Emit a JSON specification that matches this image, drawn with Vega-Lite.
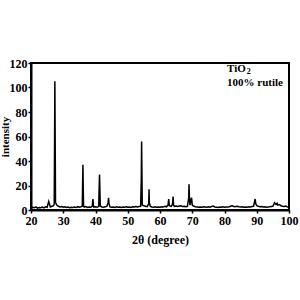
{
  "$schema": "https://vega.github.io/schema/vega-lite/v6.json",
  "width": 258,
  "height": 147,
  "autosize": {"type": "none"},
  "padding": {"left": 31, "top": 63, "right": 11, "bottom": 90},
  "background": "white",
  "config": {
    "view": {"stroke": "black", "strokeWidth": 2},
    "axis": {
      "labelFont": "Liberation Serif", "labelFontWeight": "bold", "labelFontSize": 12, "labelColor": "black",
      "titleFont": "Liberation Serif", "titleFontWeight": "bold", "titleFontSize": 12, "titleColor": "black",
      "domainColor": "black", "domainWidth": 2, "tickColor": "black", "tickSize": 3, "tickWidth": 1.5, "grid": false,
      "labelOverlap": false
    }
  },
  "encoding": {
    "x": {"field": "x", "type": "quantitative", "scale": {"domain": [20, 100], "nice": false}, "axis": {"values": [20,30,40,50,60,70,80,90,100], "labelOverlap": false, "labelFlush": false, "labelBound": false, "title": "2θ (degree)", "titlePadding": 8}},
    "y": {"field": "y", "type": "quantitative", "scale": {"domain": [0, 120], "nice": false}, "axis": {"values": [0,20,40,60,80,100,120], "labelOverlap": false, "labelFlush": false, "labelBound": false, "title": "intensity", "titleFontSize": 11, "titlePadding": -1, "labelPadding": 1}}
  },
  "layer": [
    {
      "data": {"values": [
    {"x":20,"y":1.5},{"x":20.5,"y":2.2},{"x":21,"y":1.8},{"x":21.5,"y":2.5},{"x":22,"y":1.6},{"x":22.5,"y":2.1},{"x":23,"y":1.9},{"x":23.5,"y":2.4},{"x":24,"y":1.7},{"x":24.5,"y":2.6},{"x":25,"y":2.2},{"x":25.5,"y":7},{"x":26,"y":2.5},{"x":26.5,"y":3},{"x":27,"y":3.5},{"x":27.2,"y":5},{"x":27.3,"y":50},{"x":27.4,"y":105},{"x":27.5,"y":55},{"x":27.6,"y":6},{"x":28,"y":4},{"x":28.5,"y":3},{"x":29,"y":2.5},{"x":29.5,"y":2.8},{"x":30,"y":2.2},{"x":30.5,"y":2.6},{"x":31,"y":2},{"x":31.5,"y":2.4},{"x":32,"y":1.9},{"x":32.5,"y":2.3},{"x":33,"y":2.1},{"x":33.5,"y":2.5},{"x":34,"y":2},{"x":34.5,"y":2.7},{"x":35,"y":2.2},{"x":35.5,"y":2.6},{"x":35.9,"y":3},{"x":36.0,"y":20},{"x":36.1,"y":37},{"x":36.2,"y":18},{"x":36.3,"y":3},{"x":36.5,"y":2.4},{"x":37,"y":2.8},{"x":37.5,"y":2.1},{"x":38,"y":2.5},{"x":38.5,"y":2.2},{"x":39,"y":3},{"x":39.2,"y":9},{"x":39.4,"y":3},{"x":39.5,"y":2.4},{"x":40,"y":2.6},{"x":40.5,"y":2.2},{"x":41,"y":3},{"x":41.1,"y":15},{"x":41.25,"y":29},{"x":41.4,"y":12},{"x":41.5,"y":3},{"x":42,"y":2.5},{"x":42.5,"y":2.2},{"x":43,"y":2.6},{"x":43.5,"y":2.9},{"x":43.9,"y":6},{"x":44.05,"y":10},{"x":44.2,"y":5},{"x":44.5,"y":2.5},{"x":45,"y":2.2},{"x":45.5,"y":2.4},{"x":46,"y":2.1},{"x":46.5,"y":2.6},{"x":47,"y":2.3},{"x":47.5,"y":2.5},{"x":48,"y":2},{"x":48.5,"y":2.4},{"x":49,"y":2.2},{"x":49.5,"y":2.7},{"x":50,"y":2.3},{"x":50.5,"y":2.5},{"x":51,"y":2.1},{"x":51.5,"y":2.6},{"x":52,"y":2.4},{"x":52.5,"y":2.8},{"x":53,"y":2.5},{"x":53.5,"y":2.9},{"x":54,"y":3},{"x":54.2,"y":25},{"x":54.3,"y":56},{"x":54.4,"y":30},{"x":54.5,"y":4},{"x":55,"y":3.5},{"x":55.5,"y":3},{"x":56,"y":2.8},{"x":56.5,"y":5},{"x":56.6,"y":17},{"x":56.7,"y":6},{"x":57,"y":3},{"x":57.5,"y":2.5},{"x":58,"y":2.3},{"x":58.5,"y":2.6},{"x":59,"y":2.2},{"x":59.5,"y":2.5},{"x":60,"y":2.3},{"x":60.5,"y":2.7},{"x":61,"y":2.4},{"x":61.5,"y":3},{"x":62,"y":2.6},{"x":62.5,"y":4},{"x":62.7,"y":9},{"x":62.9,"y":3.5},{"x":63.5,"y":3},{"x":63.9,"y":5},{"x":64.05,"y":11},{"x":64.2,"y":4},{"x":64.5,"y":3},{"x":65,"y":3.2},{"x":65.5,"y":2.8},{"x":66,"y":3.3},{"x":66.5,"y":3.5},{"x":67,"y":2.8},{"x":67.5,"y":3},{"x":68,"y":2.6},{"x":68.5,"y":3},{"x":68.9,"y":10},{"x":69.0,"y":21},{"x":69.1,"y":12},{"x":69.3,"y":4},{"x":69.6,"y":8},{"x":69.8,"y":10},{"x":70.0,"y":4},{"x":70.5,"y":3},{"x":71,"y":2.6},{"x":71.5,"y":2.4},{"x":72,"y":2.2},{"x":72.5,"y":2.5},{"x":73,"y":2.3},{"x":73.5,"y":2.6},{"x":74,"y":2.4},{"x":74.5,"y":2.2},{"x":75,"y":2.6},{"x":75.5,"y":2.3},{"x":76,"y":2.8},{"x":76.5,"y":3.2},{"x":77,"y":2.5},{"x":77.5,"y":2.3},{"x":78,"y":2.1},{"x":78.5,"y":2.4},{"x":79,"y":2.2},{"x":79.5,"y":2.6},{"x":80,"y":2.3},{"x":80.5,"y":2.5},{"x":81,"y":2.4},{"x":81.5,"y":2.7},{"x":82,"y":3.2},{"x":82.5,"y":3.4},{"x":83,"y":2.6},{"x":83.5,"y":2.8},{"x":84,"y":3},{"x":84.5,"y":2.6},{"x":85,"y":2.4},{"x":85.5,"y":2.7},{"x":86,"y":2.3},{"x":86.5,"y":2.5},{"x":87,"y":2.2},{"x":87.5,"y":2.6},{"x":88,"y":2.4},{"x":88.5,"y":2.8},{"x":89,"y":3},{"x":89.5,"y":9},{"x":89.7,"y":5},{"x":90,"y":3.5},{"x":90.5,"y":3},{"x":91,"y":2.6},{"x":91.5,"y":2.8},{"x":92,"y":2.4},{"x":92.5,"y":2.6},{"x":93,"y":2.3},{"x":93.5,"y":2.5},{"x":94,"y":2.6},{"x":94.5,"y":2.8},{"x":95,"y":3},{"x":95.5,"y":6},{"x":95.8,"y":5},{"x":96,"y":4.5},{"x":96.3,"y":5.5},{"x":96.5,"y":4},{"x":97,"y":4.5},{"x":97.5,"y":3.5},{"x":98,"y":3},{"x":98.5,"y":2.8},{"x":99,"y":3.2},{"x":99.5,"y":2.5},{"x":100,"y":2}
      ]},
      "mark": {"type": "line", "color": "black", "strokeWidth": 1.5}
    },
    {
      "data": {"values": [{"x": 80.8, "y": 115, "label": "TiO"}, {"x": 80.8, "y": 103.7, "label": "100% rutile"}]},
      "mark": {"type": "text", "font": "Liberation Serif", "fontWeight": "bold", "fontSize": 11, "align": "left", "baseline": "middle"},
      "encoding": {"text": {"field": "label"}}
    },
    {
      "data": {"values": [{"x": 86.9, "y": 112.3, "label": "2"}]},
      "mark": {"type": "text", "font": "Liberation Serif", "fontWeight": "bold", "fontSize": 8, "align": "left", "baseline": "middle"},
      "encoding": {"text": {"field": "label"}}
    }
  ]
}
